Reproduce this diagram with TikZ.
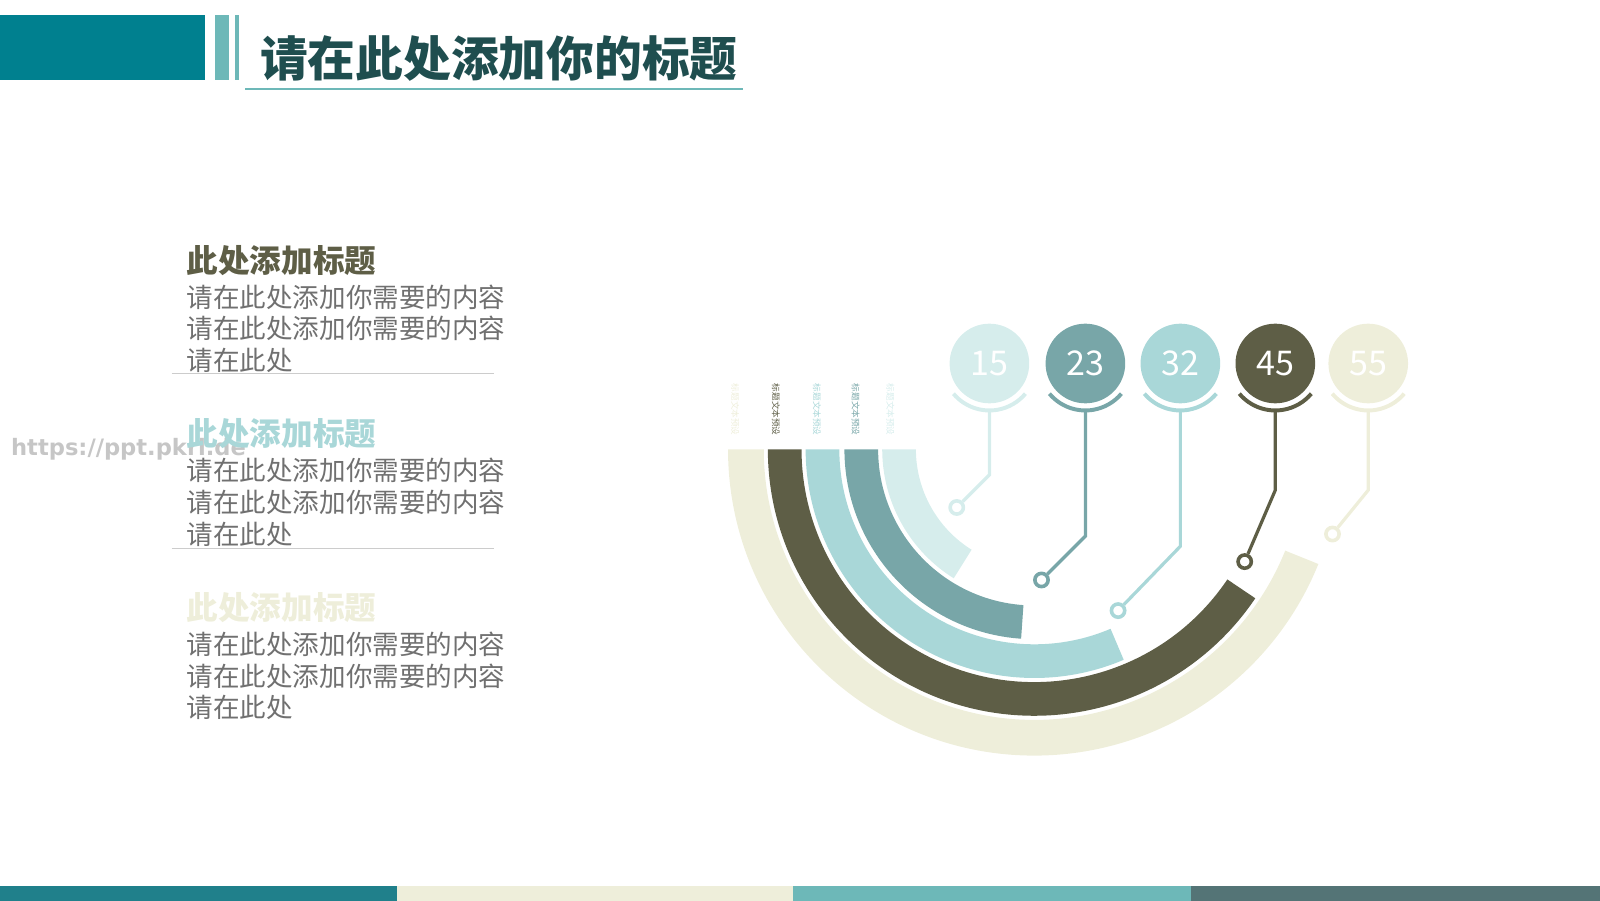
\documentclass[tikz,border=0pt]{standalone}
\usepackage{fontspec}
\setmainfont{Noto Sans CJK SC}
\newfontfamily\markfont{DejaVu Sans}
\usetikzlibrary{positioning,calc}
\definecolor{pale}{HTML}{D6EDEC}
\definecolor{teal2}{HTML}{78A6A8}
\definecolor{lblue}{HTML}{A9D7D8}
\definecolor{olive}{HTML}{5E5E46}
\definecolor{cream}{HTML}{EEEEDA}
\definecolor{titlebar}{HTML}{00808F}
\definecolor{titletext}{HTML}{1F4E4F}
\definecolor{barlight}{HTML}{6DB8B8}
\definecolor{bodygray}{HTML}{707070}
\newcommand{\band}[4]{% colour, outer radius, inner radius, end angle
  \fill[#1] (1013,442) ++(180:#2) arc[start angle=180,end angle=#4,radius=#2]
    -- ($(1013,442)+(#4:#3)$) arc[start angle=#4,end angle=180,radius=#3] -- cycle;}
\begin{document}
\begin{tikzpicture}[x=0.1mm, y=0.1mm, line width=0.5pt,
  heading/.style={anchor=west, inner sep=0pt, font=\fontsize{8.8pt}{10pt}\selectfont\bfseries},
  body/.style={anchor=west, inner sep=0pt, text=bodygray, font=\fontsize{7.4pt}{9pt}\selectfont},
  bubble/.style={circle, minimum size=7.8mm, inner sep=0pt, text=white, font=\fontsize{9.5pt}{10pt}\selectfont},
  tag/.style={rotate=-90, anchor=west, inner sep=0pt, font=\fontsize{2.4pt}{3pt}\selectfont},
  ring/.style={circle, draw, fill=white, line width=1pt, minimum size=1.3mm, inner sep=0pt}]
   \useasboundingbox (0,0) rectangle (1567,882);
   % title
   \fill[titlebar] (0,804) rectangle (201,867);
   \fill[barlight] (211,804) rectangle (224,867);
   \fill[barlight] (230,804) rectangle (234,867);
   \node [anchor=west, inner sep=0pt, text=titletext, font=\fontsize{13.3pt}{16pt}\selectfont\bfseries] (title) at (254,825) {请在此处添加你的标题};
   \draw[barlight, line width=0.45pt] (240,795) -- (728,795);
   % bottom bars
   \fill[titlebar!75!gray] (0,0) rectangle (389,14);
   \fill[cream] (389,0) rectangle (777,14);
   \fill[barlight] (777,0) rectangle (1166,14);
   \fill[teal2!70!black] (1166,0) rectangle (1567,14);
   % watermark
   \node [anchor=west, inner sep=0pt, text=gray!45, font=\fontsize{6.3pt}{8pt}\selectfont\markfont\bfseries] (mark) at (10,442) {https://ppt.pkrl.de};
   % left texts
   \node [heading, text=olive] (h1) at (182,627) {此处添加标题};
   \node [heading, text=lblue] (h2) at (182,457) {此处添加标题};
   \node [heading, text=cream] (h3) at (182,287) {此处添加标题};
   \foreach \y/\n in {627/a, 457/b, 287/c} {
     \node [body] (\n1) at (182,\y-36) {请在此处添加你需要的内容};
     \node [body] (\n2) at (182,\y-67) {请在此处添加你需要的内容};
     \node [body] (\n3) at (182,\y-98) {请在此处};
   }
   \draw[gray!40, line width=0.3pt] (168,516) -- (484,516);
   \draw[gray!40, line width=0.3pt] (168,345) -- (484,345);
   % bands
   \band{cream}{300}{265}{338}
   \band{olive}{261}{228}{326}
   \band{lblue}{224}{191}{293}
   \band{teal2}{186}{153}{266}
   \band{pale}{149}{116}{238}
   % tags
   \foreach \x/\c in {720/cream, 760/olive, 800/lblue, 838/teal2, 872/pale}
     \node [tag, text=\c] at (\x,507) {标题文本预设};
   % bubbles and leaders
   \foreach \n/\x/\c/\k/\rx/\ry in {15/969/pale/417/937/385, 23/1063/teal2/357/1020/314,
       32/1156/lblue/347/1095/284, 45/1249/olive/402/1219/332, 55/1340/cream/402/1305/359} {
     \node [bubble, fill=\c] (b\n) at (\x,526) {\n};
     \draw[\c, line width=1.1pt] (b\n.center) ++(220:46) arc[start angle=220,end angle=320,radius=46];
     \node [ring, draw=\c] (r\n) at (\rx,\ry) {};
     \draw[\c, line width=0.9pt] (\x,480) -- (\x,\k) -- (r\n);
   }
\end{tikzpicture}
\end{document}
